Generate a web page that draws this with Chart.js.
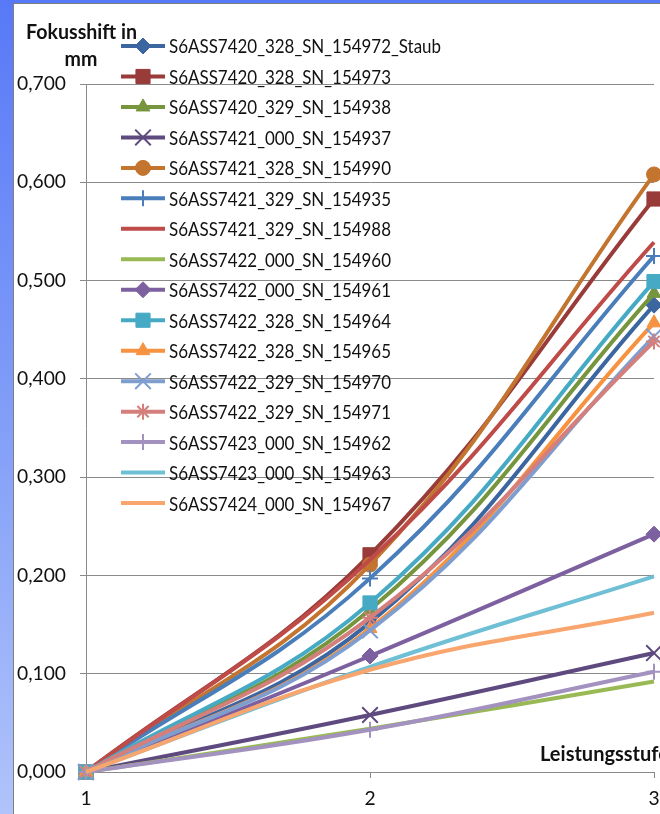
<!DOCTYPE html>
<html>
<head>
<meta charset="utf-8">
<script src="https://cdn.jsdelivr.net/npm/chart.js@4/dist/chart.umd.min.js"></script>
<style>
html,body{margin:0;padding:0;width:660px;height:814px;overflow:hidden;}
body{background:linear-gradient(to bottom,#5879f7 0%,#809df8 50%,#b0c3fa 100%);position:relative;}
#wrap{position:absolute;left:13px;top:3px;width:760px;height:830px;background:#fff;border-left:1px solid #7f7f7f;border-top:1px solid #7f7f7f;}
canvas{display:block;}
</style>
</head>
<body>
<div id="wrap"><canvas id="c" width="720" height="810"></canvas></div>
<script>
// ---- data ----
const categories = ['1', '2', '3'];
const seriesNames = [
  'S6ASS7420_328_SN_154972_Staub',
  'S6ASS7420_328_SN_154973',
  'S6ASS7420_329_SN_154938',
  'S6ASS7421_000_SN_154937',
  'S6ASS7421_328_SN_154990',
  'S6ASS7421_329_SN_154935',
  'S6ASS7421_329_SN_154988',
  'S6ASS7422_000_SN_154960',
  'S6ASS7422_000_SN_154961',
  'S6ASS7422_328_SN_154964',
  'S6ASS7422_328_SN_154965',
  'S6ASS7422_329_SN_154970',
  'S6ASS7422_329_SN_154971',
  'S6ASS7423_000_SN_154962',
  'S6ASS7423_000_SN_154963',
  'S6ASS7424_000_SN_154967'
];
const s154972 = [0, 0.152, 0.475];
const s154973 = [0, 0.221, 0.583];
const s154938 = [0, 0.165, 0.487];
const s154937 = [0, 0.058, 0.121];
const s154990 = [0, 0.211, 0.608];
const s154935 = [0, 0.197, 0.525];
const s154988 = [0, 0.216, 0.539];
const s154960 = [0, 0.044, 0.092];
const s154961 = [0, 0.118, 0.242];
const s154964 = [0, 0.172, 0.499];
const s154965 = [0, 0.146, 0.457];
const s154970 = [0, 0.144, 0.443];
const s154971 = [0, 0.157, 0.438];
const s154962 = [0, 0.043, 0.102];
const s154963 = [0, 0.107, 0.199];
const s154967 = [0, 0.104, 0.162];
const seriesValues = [s154972, s154973, s154938, s154937, s154990, s154935, s154988, s154960,
  s154961, s154964, s154965, s154970, s154971, s154962, s154963, s154967];
const yTickMin = 0, yTickMax = 0.7, yTickStep = 0.1;
const yTitleLines = ['Fokusshift in', 'mm'];
const xTitle = 'Leistungsstufe';

// ---- styles ----
const colors = ['#3b66a0', '#993b39', '#77953d', '#5e4a7e', '#c3742f', '#4a7ebb', '#be4b48', '#98b954',
  '#7d60a0', '#46aac5', '#f69240', '#7f9ed0', '#d47f7c', '#a392c0', '#6fbfd5', '#f9a56e'];
const markers = ['rectRot', 'rect', 'triangle', 'crossRot', 'circle', 'cross', null, null,
  'rectRot', 'rect', 'triangle', 'crossRot', 'star', 'cross', null, null];
const markerRadius = {rectRot: 8, rect: 10, triangle: 8, crossRot: 11, circle: 7.5, cross: 8, star: 8};
const FONT = 'Lato, "Open Sans", sans-serif';

const mctx = document.createElement('canvas').getContext('2d');
function textWidth(weight, size, text) {
  mctx.font = weight + ' ' + size + 'px ' + FONT;
  return mctx.measureText(text).width;
}
const tickSize = 100 * 49 / textWidth('400', 100, '0,700');
const legSize = 20;
const legScale = Math.min(1, 272 / textWidth('400', legSize, seriesNames[0]));
const titleSize = 20;
const titleScale = Math.min(1, 111 / textWidth('700', titleSize, yTitleLines[0]));
const xTitleScale = Math.min(1, 131 / textWidth('700', titleSize, xTitle));

// layout (canvas coords)
const AREA = {left: 72, top: 80, right: 640, bottom: 768};
const CW = 720, CH = 810;
const LEG = {x0: 107, x1: 151, xm: 129, xt: 155, y0: 42, dy: 30.47};

const datasets = seriesNames.map((name, i) => {
  const m = markers[i];
  const cross = m === 'cross' || m === 'crossRot' || m === 'star';
  return {
    label: name,
    data: seriesValues[i],
    borderColor: colors[i],
    backgroundColor: colors[i],
    borderWidth: 4,
    tension: 0.4,
    pointStyle: m || 'circle',
    pointRadius: m ? markerRadius[m] : 0,
    pointHoverRadius: m ? markerRadius[m] : 0,
    pointBackgroundColor: colors[i],
    pointBorderColor: colors[i],
    pointBorderWidth: cross ? 2 : 1,
    clip: false,
    order: seriesNames.length - i
  };
});

function drawMarker(ctx, style, r, bw, x, y) {
  if (Chart.helpers && Chart.helpers.drawPoint) {
    Chart.helpers.drawPoint(ctx, {pointStyle: style, rotation: 0, radius: r, borderWidth: bw}, x, y);
  }
}
function scaledText(ctx, text, x, y, sx, align) {
  ctx.save();
  ctx.translate(x, y);
  ctx.scale(sx, 1);
  ctx.textAlign = align;
  ctx.fillText(text, 0, 0);
  ctx.restore();
}

const overlay = {
  id: 'overlay',
  afterDraw(chart) {
    const ctx = chart.ctx;
    ctx.save();
    chart.data.datasets.forEach((ds, i) => {
      const y = LEG.y0 + i * LEG.dy;
      ctx.strokeStyle = ds.borderColor;
      ctx.lineWidth = ds.borderWidth;
      ctx.lineCap = 'butt';
      ctx.beginPath();
      ctx.moveTo(LEG.x0, y);
      ctx.lineTo(LEG.x1, y);
      ctx.stroke();
      if (ds.pointRadius > 0) {
        ctx.fillStyle = ds.pointBackgroundColor;
        ctx.strokeStyle = ds.pointBorderColor;
        ctx.lineWidth = ds.pointBorderWidth;
        drawMarker(ctx, ds.pointStyle, ds.pointRadius, ds.pointBorderWidth, LEG.xm, y);
      }
      ctx.fillStyle = '#111';
      ctx.font = '400 ' + legSize + 'px ' + FONT;
      ctx.textBaseline = 'middle';
      scaledText(ctx, ds.label, LEG.xt, y + 1, legScale, 'left');
    });
    ctx.font = '700 ' + titleSize + 'px ' + FONT;
    ctx.fillStyle = '#111';
    ctx.textBaseline = 'middle';
    scaledText(ctx, yTitleLines[0], 67.5, 29, titleScale, 'center');
    scaledText(ctx, yTitleLines[1], 67, 56, titleScale, 'center');
    scaledText(ctx, xTitle, 526, 751, xTitleScale, 'left');
    ctx.restore();
  }
};

new Chart(document.getElementById('c'), {
  type: 'line',
  data: {labels: categories, datasets},
  options: {
    responsive: false,
    animation: false,
    devicePixelRatio: 1,
    layout: {padding: {top: AREA.top, right: CW - AREA.right, left: 0, bottom: 0}},
    plugins: {legend: {display: false}, tooltip: {enabled: false}},
    scales: {
      x: {
        type: 'category',
        offset: false,
        afterFit(s) { s.height = CH - AREA.bottom; },
        grid: {drawOnChartArea: false, drawTicks: true, tickLength: 6, color: '#8a8a8a'},
        border: {color: '#8a8a8a', width: 1},
        ticks: {color: '#111', font: {family: FONT, size: tickSize}, padding: 9, maxRotation: 0}
      },
      y: {
        min: yTickMin, max: yTickMax,
        afterFit(s) { s.width = AREA.left; },
        grid: {color: '#8a8a8a', tickLength: 6, lineWidth: 1},
        border: {color: '#8a8a8a', width: 1},
        ticks: {
          stepSize: yTickStep, color: '#111', padding: 14,
          font: {family: FONT, size: tickSize},
          callback: v => v.toFixed(3).replace('.', ',')
        }
      }
    }
  },
  plugins: [overlay]
});
</script>
</body>
</html>
